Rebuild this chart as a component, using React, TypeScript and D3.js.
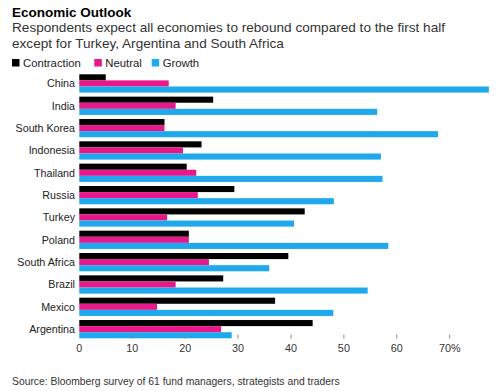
import * as d3 from "d3";

const countries = [
  "China",
  "India",
  "South Korea",
  "Indonesia",
  "Thailand",
  "Russia",
  "Turkey",
  "Poland",
  "South Africa",
  "Brazil",
  "Mexico",
  "Argentina",
];
const contraction = [5.0, 25.3, 16.1, 23.1, 20.3, 29.3, 42.6, 20.7, 39.5, 27.2, 37.0, 44.1];
const neutral = [16.9, 18.2, 16.1, 19.6, 22.1, 22.4, 16.6, 20.7, 24.5, 18.2, 14.7, 26.8];
const growth = [77.4, 56.3, 67.8, 57.0, 57.3, 48.1, 40.6, 58.4, 35.9, 54.5, 48.0, 28.8];
const seriesNames = ["Contraction", "Neutral", "Growth"];
const seriesColors = ["#000000", "#e8178a", "#1fa8ec"];
const xTicks = [0, 10, 20, 30, 40, 50, 60, 70];

const font = "'Liberation Sans', Arial, Helvetica, sans-serif";

export default function App() {
  const width = 500;
  const height = 391;

  const x = d3.scaleLinear().domain([0, 70]).range([79.3, 449.7]);
  const y = d3
    .scaleBand<string>()
    .domain(countries)
    .range([74.3, 338.3])
    .paddingInner(4 / 22)
    .paddingOuter(0);
  const ySub = d3.scaleBand<string>().domain(seriesNames).range([0, y.bandwidth()]);

  const values = [contraction, neutral, growth];
  const rows = countries.map((c, i) => ({
    country: c,
    vals: seriesNames.map((s, j) => ({ name: s, value: values[j][i], color: seriesColors[j] })),
  }));

  const legendX = [12, 94.3, 151.7];

  return (
    <div style={{ position: "fixed", left: 0, top: 0 }}>
      <svg width={width} height={height} style={{ display: "block", background: "#fff" }}>
        <text x={12} y={16.5} fontFamily={font} fontWeight="bold" fontSize={13.5} fill="#000">
          Economic Outlook
        </text>
        <text x={12} y={31.7} fontFamily={font} fontSize={13.6} fill="#333">
          Respondents expect all economies to rebound compared to the first half
        </text>
        <text x={12} y={48.3} fontFamily={font} fontSize={13.6} fill="#333">
          except for Turkey, Argentina and South Africa
        </text>

        {seriesNames.map((s, i) => (
          <g key={s} transform={`translate(${legendX[i]},59)`}>
            <rect width={7.5} height={7.5} fill={seriesColors[i]} />
            <text x={11} y={7.6} fontFamily={font} fontSize={11.3} fill="#222">
              {s}
            </text>
          </g>
        ))}

        {rows.map((r) => (
          <g key={r.country} transform={`translate(0,${y(r.country)})`}>
            <text
              x={75}
              y={y.bandwidth() / 2}
              dy="0.35em"
              textAnchor="end"
              fontFamily={font}
              fontSize={10.7}
              fill="#222"
            >
              {r.country}
            </text>
            {r.vals.map((v) => (
              <rect
                key={v.name}
                x={x(0)}
                y={ySub(v.name)}
                width={x(v.value) - x(0)}
                height={ySub.bandwidth()}
                fill={v.color}
              />
            ))}
          </g>
        ))}

        {xTicks.map((t) => (
          <g key={t} transform={`translate(${x(t)},0)`}>
            {t > 0 && <line y1={334.5} y2={338.5} stroke="#888" strokeWidth={1} />}
            <text
              y={352}
              textAnchor="middle"
              fontFamily={font}
              fontSize={10.8}
              fill="#333"
            >
              {t === 70 ? "70%" : t}
            </text>
          </g>
        ))}

        <text x={12} y={385} fontFamily={font} fontSize={10.35} fill="#333">
          Source: Bloomberg survey of 61 fund managers, strategists and traders
        </text>
      </svg>
    </div>
  );
}
